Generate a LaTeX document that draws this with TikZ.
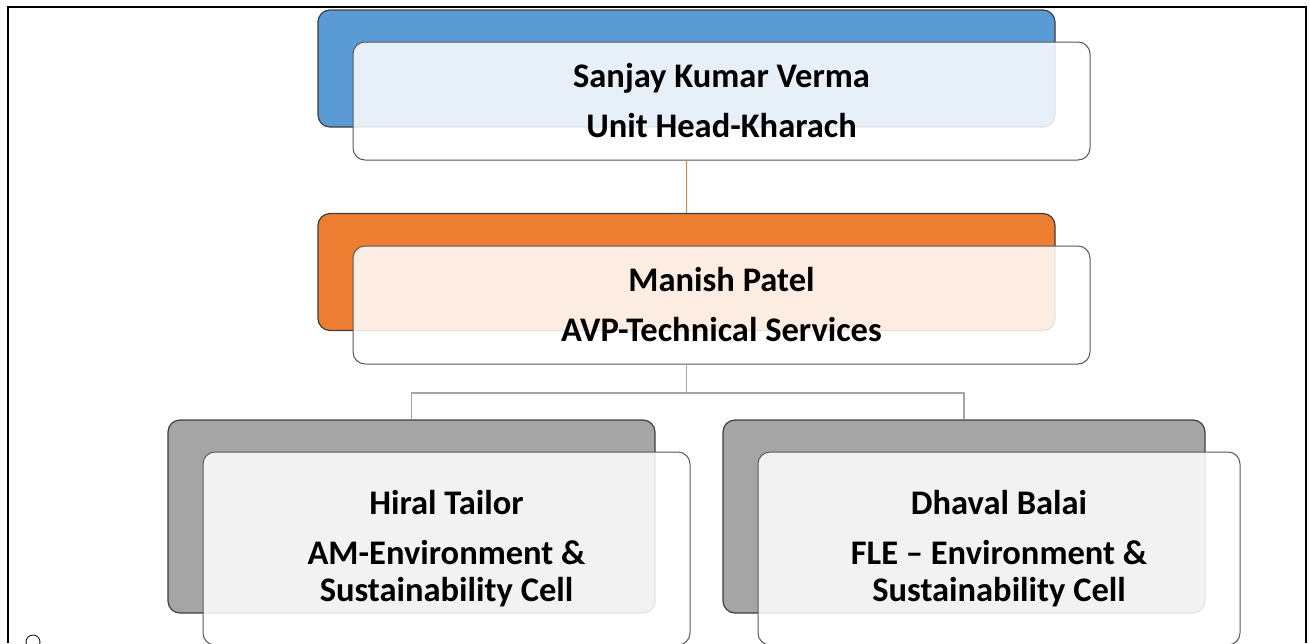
\documentclass[tikz,border=0pt]{standalone}
\usepackage{fontspec}
\setmainfont{Carlito}
\usetikzlibrary{positioning}
\definecolor{orgblue}{RGB}{91,155,213}
\definecolor{orgorange}{RGB}{237,125,49}
\definecolor{orggray}{RGB}{165,165,165}
\definecolor{edgegray}{RGB}{89,89,89}

\begin{document}
\begin{tikzpicture}[x=1pt, y=-1pt,
  backbox/.style={draw=edgegray!70!black, line width=1.2pt, rounded corners=12pt,
                  minimum width=737pt, minimum height=117pt},
  front/.style={draw=edgegray, line width=1pt, fill=white, fill opacity=0.86,
                text opacity=1, rounded corners=12pt, minimum width=737pt,
                minimum height=118pt, align=center,
                font=\fontsize{34.5}{37}\selectfont\bfseries},
  link/.style={line width=1.2pt}
]
  \useasboundingbox (0,0) rectangle (1310,643);
  \draw[line width=2pt] (8,643) -- (8,7) -- (1306,7) -- (1306,643);
  \draw[line width=0.8pt] (33,642) circle (7pt);

  % back boxes
  \node[backbox, fill=orgblue]   (headback) at (686.5,68.5) {};
  \node[backbox, fill=orgorange] (avpback)  at (686.5,272)  {};
  \node[backbox, fill=orggray, minimum width=487pt, minimum height=193pt] (amback)  at (411.5,516.5) {};
  \node[backbox, fill=orggray, minimum width=482pt, minimum height=193pt] (fleback) at (964,516.5)   {};

  % front boxes
  \node[front] (head) at ([shift={(35,32.5)}]headback.center)
    {Sanjay Kumar Verma\\[13pt]Unit Head-Kharach};
  \node[front] (avp) at ([shift={(35,33)}]avpback.center)
    {Manish Patel\\[13pt]AVP-Technical Services};
  \node[front, minimum width=487pt, minimum height=193pt] (am) at ([shift={(35,32)}]amback.center)
    {Hiral Tailor\\[13pt]AM-Environment \&\\Sustainability Cell};
  \node[front, minimum width=482pt, minimum height=193pt] (fle) at ([shift={(35,32)}]fleback.center)
    {Dhaval Balai\\[13pt]FLE -- Environment \&\\Sustainability Cell};

  % links
  \coordinate (split) at (686.5,393);
  \draw[link, orgorange] (headback.north |- head.south) -- (avpback.north);
  \draw[link, orggray] (avpback.north |- avp.south) -- (split);
  \draw[link, orggray] (split) -| (amback.north);
  \draw[link, orggray] (split) -| (fleback.north);
\end{tikzpicture}
\end{document}
